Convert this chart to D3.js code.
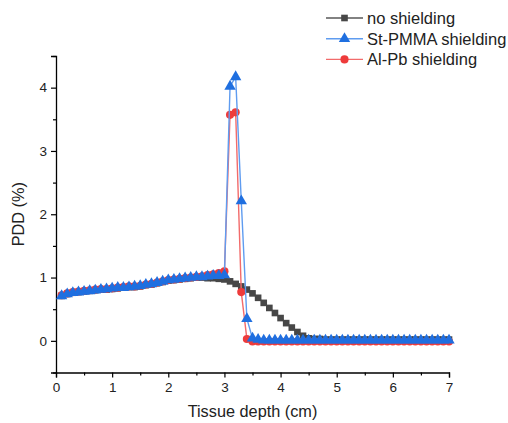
<!DOCTYPE html>
<html>
<head>
<meta charset="utf-8">
<script src="https://cdn.jsdelivr.net/npm/d3@7"></script>
<style>
  body { margin: 0; background: #fff; }
  svg { display: block; font-family: Arial, "Liberation Sans", sans-serif; }
</style>
</head>
<body>
<div id="viz"></div>
<script>
// Tissue depth (cm)
const depth = [
  0.1, 0.2, 0.3, 0.4, 0.5, 0.6, 0.7, 0.8, 0.9, 1.0,
  1.1, 1.2, 1.3, 1.4, 1.5, 1.6, 1.7, 1.8, 1.9, 2.0,
  2.1, 2.2, 2.3, 2.4, 2.5, 2.6, 2.7, 2.8, 2.9, 3.0,
  3.1, 3.2, 3.3, 3.4, 3.5, 3.6, 3.7, 3.8, 3.9, 4.0,
  4.1, 4.2, 4.3, 4.4, 4.5, 4.6, 4.7, 4.8, 4.9, 5.0,
  5.1, 5.2, 5.3, 5.4, 5.5, 5.6, 5.7, 5.8, 5.9, 6.0,
  6.1, 6.2, 6.3, 6.4, 6.5, 6.6, 6.7, 6.8, 6.9, 7.0
];

// PDD (%) per series
const noShielding = [
  0.71, 0.74, 0.76, 0.77, 0.78, 0.79, 0.80, 0.81, 0.81, 0.82,
  0.83, 0.84, 0.85, 0.85, 0.86, 0.88, 0.89, 0.91, 0.93, 0.95,
  0.96, 0.97, 0.98, 0.99, 1.00, 1.00, 0.99, 0.99, 0.98, 0.97,
  0.94, 0.90, 0.86, 0.81, 0.75, 0.68, 0.60, 0.52, 0.44, 0.36,
  0.28, 0.21, 0.14, 0.08, 0.04, 0.03, 0.03, 0.02, 0.02, 0.02,
  0.02, 0.02, 0.02, 0.02, 0.02, 0.02, 0.02, 0.02, 0.02, 0.02,
  0.02, 0.02, 0.02, 0.02, 0.02, 0.02, 0.02, 0.02, 0.02, 0.02
];
const stPmma = [
  0.71, 0.74, 0.76, 0.77, 0.78, 0.79, 0.80, 0.81, 0.82, 0.83,
  0.84, 0.84, 0.85, 0.86, 0.87, 0.89, 0.90, 0.92, 0.94, 0.96,
  0.97, 0.98, 0.99, 1.00, 1.01, 1.01, 1.02, 1.03, 1.03, 1.04,
  4.02, 4.17, 2.21, 0.35, 0.04, 0.02, 0.01, 0.01, 0.01, 0.01,
  0.01, 0.01, 0.01, 0.01, 0.01, 0.01, 0.01, 0.01, 0.01, 0.01,
  0.01, 0.01, 0.01, 0.01, 0.01, 0.01, 0.01, 0.01, 0.01, 0.01,
  0.01, 0.01, 0.01, 0.01, 0.01, 0.01, 0.01, 0.01, 0.01, 0.01
];
const alPb = [
  0.72, 0.75, 0.77, 0.78, 0.79, 0.80, 0.81, 0.82, 0.82, 0.83,
  0.84, 0.85, 0.86, 0.86, 0.87, 0.89, 0.90, 0.92, 0.94, 0.96,
  0.97, 0.98, 0.99, 1.00, 1.01, 1.02, 1.04, 1.05, 1.07, 1.10,
  3.57, 3.61, 0.77, 0.03, -0.01, -0.01, -0.01, -0.01, -0.01, -0.01,
  -0.01, -0.01, -0.01, -0.01, -0.01, -0.01, -0.01, -0.01, -0.01, -0.01,
  -0.01, -0.01, -0.01, -0.01, -0.01, -0.01, -0.01, -0.01, -0.01, -0.01,
  -0.01, -0.01, -0.01, -0.01, -0.01, -0.01, -0.01, -0.01, -0.01, -0.01
];

const seriesNames = ["no shielding", "St-PMMA shielding", "Al-Pb shielding"];
const xTicks = [0, 1, 2, 3, 4, 5, 6, 7];
const yTicks = [0, 1, 2, 3, 4];

const width = 508, height = 423;
const margin = { top: 56, right: 59, bottom: 50.5, left: 56 };

const series = [
  { name: seriesNames[0], values: noShielding, line: "#595959", fill: "#474747", symbol: d3.symbolSquare, size: 44 },
  { name: seriesNames[2], values: alPb, line: "#f26b6b", fill: "#ee3b3b", symbol: d3.symbolCircle, size: 52 },
  { name: seriesNames[1], values: stPmma, line: "#5f9cf0", fill: "#1f6fe0", symbol: d3.symbolTriangle, size: 56 }
];

const svg = d3.select("#viz").append("svg")
  .attr("width", width)
  .attr("height", height);

const x = d3.scaleLinear().domain([0, 7]).range([margin.left, width - margin.right]);
const y = d3.scaleLinear().domain([-0.5, 4.5]).range([height - margin.bottom, margin.top]);

// axes
svg.append("g")
  .attr("transform", `translate(0,${height - margin.bottom})`)
  .call(d3.axisBottom(x).tickValues(xTicks).tickFormat(d3.format("d")).tickSize(5).tickPadding(5));
svg.append("g")
  .attr("transform", `translate(0,${height - margin.bottom})`)
  .call(d3.axisBottom(x).tickValues(d3.range(0.5, 7, 1)).tickFormat("").tickSize(3))
  .select(".domain").remove();

svg.append("g")
  .attr("transform", `translate(${margin.left},0)`)
  .call(d3.axisLeft(y).tickValues(yTicks).tickFormat(d3.format("d")).tickSize(5).tickPadding(4));
svg.append("g")
  .attr("transform", `translate(${margin.left},0)`)
  .call(d3.axisLeft(y).tickValues(d3.range(-0.5, 4.6, 1)).tickFormat("").tickSize(3))
  .select(".domain").remove();

svg.selectAll(".domain").attr("stroke", "#000").attr("stroke-width", 1.3);
svg.selectAll(".tick line").attr("stroke", "#000").attr("stroke-width", 1.2);
svg.selectAll(".tick text").attr("font-size", 13.5).attr("fill", "#222")
  .attr("font-family", "Arial, 'Liberation Sans', sans-serif");

// axis titles
svg.append("text")
  .attr("x", (margin.left + width - margin.right) / 2)
  .attr("y", 417)
  .attr("text-anchor", "middle")
  .attr("font-size", 16.3)
  .attr("fill", "#222")
  .text("Tissue depth (cm)");

svg.append("text")
  .attr("transform", `translate(24,${(margin.top + height - margin.bottom) / 2}) rotate(-90)`)
  .attr("text-anchor", "middle")
  .attr("font-size", 16.3)
  .attr("fill", "#222")
  .text("PDD (%)");

// series
const line = d3.line().x((d, i) => x(depth[i])).y(d => y(d));
const plot = svg.append("g");

series.forEach(s => {
  plot.append("path")
    .datum(s.values)
    .attr("fill", "none")
    .attr("stroke", s.line)
    .attr("stroke-width", 1.4)
    .attr("d", line);
  plot.append("g")
    .selectAll("path")
    .data(s.values)
    .join("path")
    .attr("transform", (d, i) => `translate(${x(depth[i])},${y(d)})`)
    .attr("d", d3.symbol().type(s.symbol).size(s.size))
    .attr("fill", s.fill);
});

// legend
const legendOrder = [series[0], series[2], series[1]];
const legend = svg.append("g").attr("transform", "translate(326,18)");
legendOrder.forEach((s, i) => {
  const row = legend.append("g").attr("transform", `translate(0,${i * 20.7})`);
  row.append("line")
    .attr("x1", 0).attr("x2", 37)
    .attr("stroke", s.line).attr("stroke-width", 1.4);
  row.append("path")
    .attr("transform", "translate(18.5,0)")
    .attr("d", d3.symbol().type(s.symbol).size(s.size))
    .attr("fill", s.fill);
  row.append("text")
    .attr("x", 41)
    .attr("y", 5.8)
    .attr("font-size", 16.5)
    .attr("fill", "#222")
    .text(s.name);
});
</script>
</body>
</html>
